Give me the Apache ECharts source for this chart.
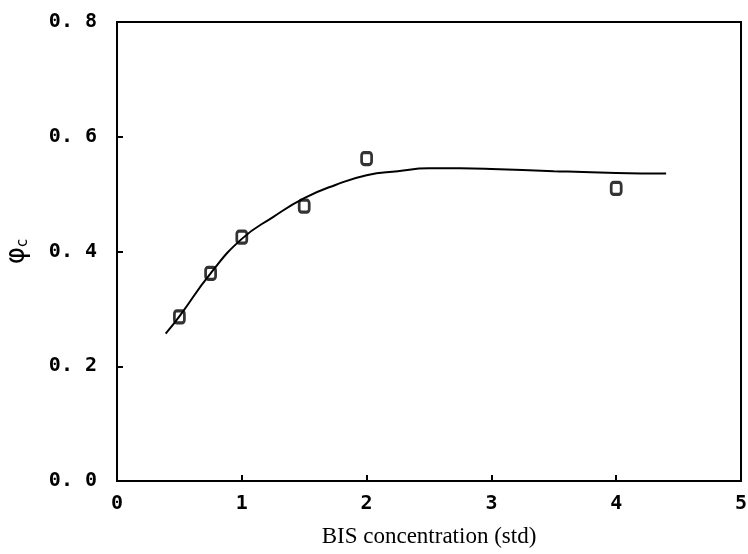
<!DOCTYPE html>
<html>
<head>
<meta charset="utf-8">
<script src="https://cdn.jsdelivr.net/npm/echarts@6/dist/echarts.min.js"></script>
<style>html,body{margin:0;padding:0;background:#fff;}#c{width:748px;height:554px;}</style>
</head>
<body>
<div id="c"></div>
<script>
var pointX = [0.5, 0.75, 1, 1.5, 2, 4];
var pointY = [0.286, 0.362, 0.425, 0.479, 0.562, 0.510];
var curveX = [0.39, 0.5, 0.75, 1, 1.25, 1.5, 1.75, 2, 2.25, 2.5, 2.75, 3, 3.5, 4, 4.4];
var curveY = [0.257, 0.287, 0.362, 0.422, 0.460, 0.493, 0.516, 0.533, 0.540, 0.545, 0.545, 0.544, 0.540, 0.537, 0.536];
var xTicks = [0, 1, 2, 3, 4, 5];
var yTickLabels = {'0': '0. 0', '0.2': '0. 2', '0.4': '0. 4', '0.6': '0. 6', '0.8': '0. 8'};

var chart = echarts.init(document.getElementById('c'));
var pts = pointX.map(function (x, i) { return [x, pointY[i]]; });
var curve = curveX.map(function (x, i) { return [x, curveY[i]]; });
chart.setOption({
  animation: false,
  backgroundColor: '#fff',
  grid: { left: 117, top: 22, right: 7, bottom: 73, show: true, borderColor: '#000', borderWidth: 2,
    backgroundColor: 'transparent', containLabel: false, outerBoundsMode: 'none' },
  xAxis: {
    type: 'value', min: 0, max: 5, interval: 1,
    axisLine: { show: true, lineStyle: { color: '#000', width: 2 } },
    axisTick: { show: true, inside: true, length: 6, lineStyle: { color: '#000', width: 2 } },
    splitLine: { show: false },
    axisLabel: { color: '#000', fontFamily: 'DejaVu Sans Mono', fontWeight: 'bold', fontSize: 20, margin: 13,
      formatter: function (v) { return String(v); } },
    name: 'BIS concentration (std)', nameLocation: 'middle', nameGap: 44,
    nameTextStyle: { color: '#000', fontFamily: 'Liberation Serif', fontSize: 23 }
  },
  yAxis: {
    type: 'value', min: 0, max: 0.8, interval: 0.2,
    axisLine: { show: true, lineStyle: { color: '#000', width: 2 } },
    axisTick: { show: true, inside: true, length: 6, lineStyle: { color: '#000', width: 2 } },
    splitLine: { show: false },
    axisLabel: { color: '#000', fontFamily: 'DejaVu Sans Mono', fontWeight: 'bold', fontSize: 20, margin: 20,
      formatter: function (v) { var k = String(Math.round(v * 10) / 10); return yTickLabels[k] || k; } },
    name: '{p|φ}{s|c}', nameLocation: 'middle', nameGap: 86, nameRotate: 90,
    nameTextStyle: { color: '#000', rich: {
      p: { fontFamily: 'DejaVu Sans', fontSize: 26, color: '#000' },
      s: { fontFamily: 'DejaVu Sans', fontSize: 15, color: '#000', verticalAlign: 'bottom', padding: [12, 0, 0, 0] }
    } }
  },
  series: [
    { type: 'line', data: curve, smooth: true, symbol: 'none', lineStyle: { color: '#000', width: 2 }, z: 2 },
    { type: 'scatter', data: pts, symbol: 'roundRect', symbolSize: [10, 12],
      itemStyle: { color: 'rgba(0,0,0,0)', borderColor: '#000', borderWidth: 3 }, z: 3 }
  ]
});
</script>
</body>
</html>
